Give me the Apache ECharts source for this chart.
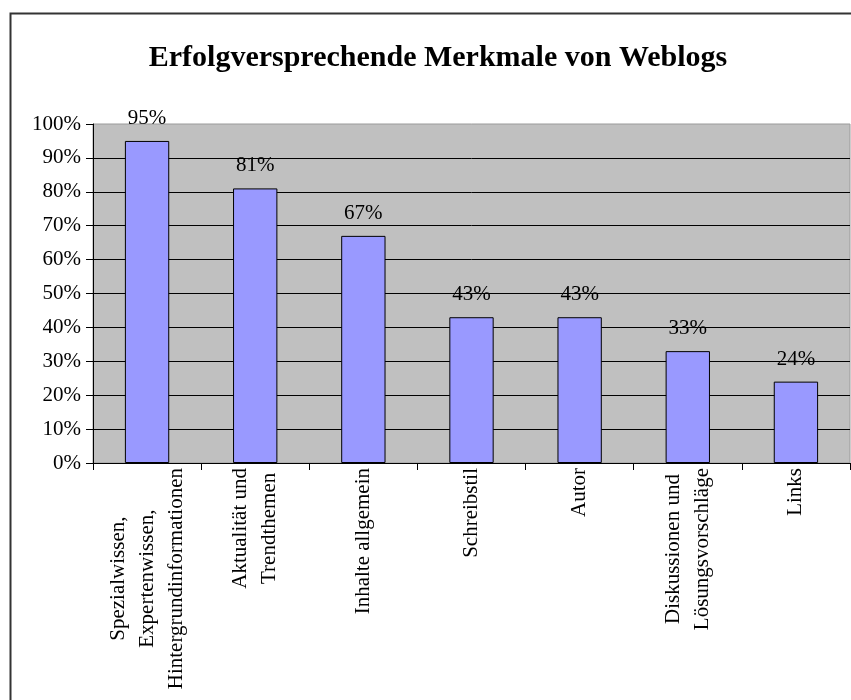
<!DOCTYPE html>
<html>
<head>
<meta charset="utf-8">
<script src="https://cdn.jsdelivr.net/npm/echarts@6/dist/echarts.min.js"></script>
<style>
html,body{margin:0;padding:0;background:#fff;}
#chart{width:851px;height:700px;}
</style>
</head>
<body>
<div id="chart"></div>
<script>
const titleText = 'Erfolgversprechende Merkmale von Weblogs';
const categories = [
  'Spezialwissen,\nExpertenwissen,\nHintergrundinformationen',
  'Aktualität und\nTrendthemen',
  'Inhalte allgemein',
  'Schreibstil',
  'Autor',
  'Diskussionen und\nLösungsvorschläge',
  'Links'
];
const values = [95, 81, 67, 43, 43, 33, 24];
const yTicks = { min: 0, max: 100, interval: 10 };

const FONT = '"Liberation Serif", "Times New Roman", serif';
const chart = echarts.init(document.getElementById('chart'), null, { renderer: 'canvas' });
chart.setOption({
  animation: false,
  backgroundColor: '#ffffff',
  title: {
    text: titleText,
    left: 433,
    textAlign: 'center',
    top: 38,
    textStyle: { fontFamily: FONT, fontSize: 30, fontWeight: 'bold', color: '#000' }
  },
  graphic: [{
    type: 'rect',
    shape: { x: 10.5, y: 13.5, width: 900, height: 800 },
    style: { fill: 'none', stroke: '#333', lineWidth: 2 },
    silent: true
  }],
  grid: {
    left: 93, right: 1, top: 124, bottom: 237,
    show: true, backgroundColor: '#c0c0c0', borderColor: '#9a9a9a', borderWidth: 1
  },
  xAxis: {
    type: 'category',
    data: categories,
    axisLine: { show: true, lineStyle: { color: '#000', width: 1 } },
    axisTick: { show: true, length: 7, lineStyle: { color: '#000' } },
    axisLabel: {
      rotate: 90,
      interval: 0,
      margin: 5,
      fontFamily: FONT,
      fontSize: 21,
      lineHeight: 29,
      color: '#000',
      formatter: function (v) {
        return v.split('\n').map(function (s) { return '{c|' + s + '}'; }).join('\n');
      },
      rich: { c: { align: 'center', fontFamily: FONT, fontSize: 21, lineHeight: 29, color: '#000' } }
    },
    splitLine: { show: false }
  },
  yAxis: {
    type: 'value',
    min: yTicks.min, max: yTicks.max, interval: yTicks.interval,
    axisLine: { show: true, lineStyle: { color: '#000', width: 1 } },
    axisTick: { show: true, inside: false, length: 7, lineStyle: { color: '#000' } },
    axisLabel: { formatter: '{value}%', margin: 12, fontFamily: FONT, fontSize: 21, color: '#000' },
    splitLine: { show: true, showMaxLine: false, lineStyle: { color: '#000', width: 1 } }
  },
  series: [{
    type: 'bar',
    data: values,
    barWidth: '41%',
    itemStyle: { color: '#9999ff', borderColor: '#000', borderWidth: 1 },
    label: {
      show: true, position: 'top', distance: 12,
      formatter: '{c}%',
      fontFamily: FONT, fontSize: 21, color: '#000'
    }
  }]
});
</script>
</body>
</html>
